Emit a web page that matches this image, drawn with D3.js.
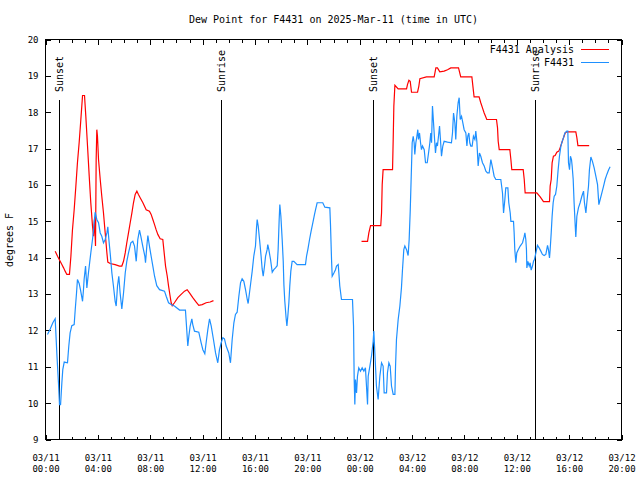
<!DOCTYPE html>
<html>
<head>
<meta charset="utf-8">
<script src="https://cdn.jsdelivr.net/npm/d3@7"></script>
<style>
  html, body { margin: 0; padding: 0; background: #ffffff; }
  svg { display: block; }
  text { font-family: "DejaVu Sans Mono", "Liberation Mono", monospace; fill: #000; }
</style>
</head>
<body>
<svg id="chart" width="640" height="480"></svg>
<script>
// ---- Data (hours after 2025-03-11 00:00 UTC, dew point in °F) ----
const startUTC = Date.UTC(2025, 2, 11, 0, 0);
const spanHours = 44;

const yTickValues = [9, 10, 11, 12, 13, 14, 15, 16, 17, 18, 19, 20];

const obsHours = [
  0.15,0.36,0.56,0.74,0.87,0.99,1.07,1.15,1.25,1.32,
  1.43,1.68,1.78,1.88,2.01,2.19,2.27,2.37,2.44,2.57,
  2.67,2.78,2.83,2.90,2.95,3.06,3.16,3.28,3.46,3.59,
  3.67,3.79,3.92,4.05,4.18,4.30,4.43,4.56,4.69,4.76,
  4.84,4.94,5.07,5.19,5.32,5.40,5.50,5.60,5.70,5.83,
  5.96,6.09,6.21,6.34,6.52,6.67,6.80,6.93,7.05,7.18,
  7.28,7.44,7.59,7.64,7.74,7.82,7.94,8.07,8.20,8.33,
  8.50,8.71,9.09,9.22,9.40,9.60,9.85,10.24,10.69,10.77,
  10.87,10.95,11.05,11.18,11.25,11.38,11.71,11.89,12.02,12.17,
  12.27,12.40,12.53,12.66,12.83,12.99,13.16,13.29,13.42,13.55,
  13.67,13.80,14.00,14.13,14.26,14.39,14.51,14.64,14.77,14.90,
  15.02,15.15,15.28,15.41,15.48,15.58,15.71,15.79,15.91,16.04,
  16.12,16.17,16.25,16.35,16.47,16.55,16.63,16.73,16.81,16.93,
  16.98,17.06,17.19,17.32,17.44,17.57,17.70,17.77,17.85,17.90,
  17.98,18.08,18.16,18.21,18.28,18.38,18.44,18.51,18.59,18.66,
  18.74,18.84,18.97,19.22,19.86,19.94,20.04,20.17,20.29,20.42,
  20.55,20.63,20.75,21.18,21.34,21.72,21.77,21.85,21.90,22.03,
  22.15,22.23,22.36,22.41,22.48,22.61,23.45,23.53,23.58,23.63,
  23.68,23.76,23.83,23.93,24.06,24.19,24.32,24.44,24.52,24.60,
  24.65,24.78,24.90,25.03,25.08,25.16,25.28,25.41,25.54,25.67,
  25.79,25.87,26.05,26.12,26.23,26.33,26.43,26.56,26.69,26.74,
  26.81,26.94,27.07,27.19,27.27,27.37,27.45,27.58,27.70,27.78,
  27.86,27.96,28.01,28.09,28.16,28.21,28.29,28.37,28.44,28.49,
  28.57,28.65,28.72,28.80,28.93,29.03,29.16,29.26,29.36,29.43,
  29.49,29.56,29.61,29.69,29.79,29.87,29.94,30.02,30.10,30.17,
  30.25,30.35,30.45,30.71,31.01,31.09,31.17,31.27,31.34,31.42,
  31.52,31.60,31.68,31.78,31.88,31.98,32.11,32.19,32.26,32.34,
  32.41,32.49,32.59,32.69,32.80,32.87,32.95,33.05,33.15,33.25,
  33.38,33.51,33.64,33.76,33.89,34.02,34.15,34.27,34.40,34.78,
  34.91,34.99,35.09,35.16,35.32,35.39,35.50,35.55,35.75,35.80,
  35.85,35.93,36.00,36.11,36.26,36.44,36.57,36.62,36.69,36.74,
  36.77,36.85,36.95,37.02,37.10,37.20,37.28,37.35,37.46,37.58,
  37.71,37.84,37.96,38.09,38.22,38.35,38.42,38.50,38.55,38.63,
  38.70,38.78,38.86,38.96,39.06,39.16,39.26,39.37,39.47,39.57,
  39.67,39.82,39.90,39.95,40.03,40.10,40.18,40.23,40.31,40.38,
  40.46,40.51,40.59,40.71,40.84,40.97,41.10,41.17,41.28,41.35,
  41.48,41.55,41.66,41.78,41.91,42.04,42.17,42.27,42.37,42.50,
  42.63,42.75,42.88,43.01,43.13
];
const obsDew = [
  11.89,12.04,12.21,12.32,11.34,10.56,9.96,9.96,10.56,10.92,
  11.13,11.11,11.57,11.93,12.13,12.16,12.57,13.03,13.40,13.29,
  13.12,12.90,12.80,13.12,13.40,13.77,13.17,13.58,14.13,14.50,
  14.77,15.25,15.05,14.96,14.68,14.59,14.41,14.50,14.68,14.85,
  14.50,14.13,13.58,13.22,12.80,12.67,13.22,13.49,13.03,12.59,
  13.03,13.58,13.90,14.13,14.41,14.45,14.32,13.90,14.50,14.76,
  14.59,14.30,14.04,13.86,14.32,14.61,14.32,14.04,13.77,13.49,
  13.23,13.12,13.08,12.94,12.76,12.71,12.67,12.56,12.56,12.12,
  11.57,11.84,12.12,12.32,12.16,11.98,11.95,11.66,11.47,11.36,
  11.66,12.02,12.32,12.12,11.75,11.38,11.11,11.47,11.66,11.80,
  11.77,11.57,11.38,11.11,11.75,12.21,12.44,12.50,12.94,13.31,
  13.42,13.35,13.12,12.85,12.74,13.03,13.40,13.63,14.04,14.32,
  14.82,15.05,14.87,14.50,14.04,13.69,13.49,13.77,14.04,14.22,
  14.36,14.22,13.95,13.60,13.67,13.72,13.78,14.22,15.05,15.46,
  15.14,14.50,13.90,13.26,12.80,12.34,12.12,12.39,12.76,13.22,
  13.63,13.90,13.90,13.81,13.81,14.04,14.22,14.50,14.73,14.96,
  15.19,15.32,15.51,15.51,15.39,15.37,14.91,13.95,13.49,13.58,
  13.67,13.77,13.81,13.58,13.22,12.85,12.85,12.12,10.65,9.96,
  10.65,10.28,10.74,10.97,10.88,10.97,10.88,10.97,10.47,9.96,
  10.74,11.02,11.29,11.70,11.98,11.38,10.47,10.10,10.74,11.11,
  11.02,10.28,10.28,10.83,11.11,11.02,10.47,10.24,10.24,11.02,
  11.75,12.30,12.67,13.17,13.67,14.22,14.32,14.22,14.06,14.50,
  15.28,16.52,17.16,17.34,17.16,16.84,17.16,17.34,17.52,17.25,
  17.43,17.16,16.97,17.07,16.97,16.61,16.61,16.88,17.16,17.43,
  17.16,18.17,17.89,17.43,16.88,17.16,17.07,17.34,17.62,17.25,
  16.79,17.07,17.20,17.18,17.16,17.43,17.98,17.71,17.25,17.89,
  18.26,18.40,17.80,17.89,17.71,17.52,17.43,17.07,17.34,17.43,
  17.16,17.07,17.07,17.34,17.25,17.48,17.20,16.52,16.88,16.79,
  16.61,16.52,16.38,16.33,16.33,16.70,16.47,16.24,16.15,16.15,
  15.78,15.23,15.60,15.92,15.92,15.51,15.23,15.00,15.00,14.68,
  14.22,13.86,14.13,14.22,14.32,14.41,14.59,14.68,14.50,14.22,
  13.72,13.90,13.77,13.86,13.66,13.77,13.90,13.95,14.13,14.34,
  14.27,14.18,14.09,14.06,14.09,14.34,14.22,13.99,14.22,14.68,
  15.14,15.51,15.69,15.74,15.97,16.42,16.79,17.07,17.20,17.30,
  17.43,17.48,17.48,16.61,16.42,16.79,16.70,16.52,16.15,15.51,
  14.91,14.57,15.14,15.37,15.51,15.69,15.83,15.51,15.23,15.51,
  15.97,16.42,16.77,16.65,16.47,16.24,16.01,15.46,15.60,15.78,
  15.97,16.15,16.29,16.41,16.50
];

// analysis series (null marks the gap with no analysis)
const anaHours = [
  0.74,0.92,1.12,1.25,1.38,1.50,1.63,1.83,1.94,2.06,
  2.19,2.32,2.44,2.57,2.70,2.83,2.98,3.08,3.21,3.34,
  3.46,3.59,3.67,3.74,3.82,3.87,3.92,3.97,4.05,4.18,
  4.30,4.43,4.56,4.69,4.76,4.94,5.32,5.65,5.83,5.96,
  6.09,6.21,6.34,6.47,6.60,6.72,6.85,6.98,7.10,7.23,
  7.44,7.69,7.94,8.07,8.20,8.33,8.45,8.58,8.76,8.96,
  9.04,9.17,9.30,9.40,9.52,9.60,9.68,9.85,10.11,10.36,
  10.62,10.82,11.00,11.25,11.51,11.71,11.97,12.27,12.58,12.83,
  null,
  24.14,24.60,24.70,24.83,25.61,25.67,25.72,25.79,26.51,26.56,
  26.61,26.69,26.94,27.58,27.65,27.76,27.86,27.96,28.42,28.52,
  28.60,29.10,29.69,29.82,29.94,30.12,30.45,30.71,30.96,31.55,
  31.72,32.57,32.69,32.74,33.12,33.25,33.38,33.51,33.71,34.45,
  34.53,34.58,34.66,35.47,35.55,35.62,36.49,36.57,36.64,37.53,
  37.79,38.04,38.50,38.55,38.63,38.70,38.80,38.93,39.06,39.21,
  39.31,39.44,39.57,39.70,39.82,40.51,40.59,40.67,41.53
];
const anaDew = [
  14.18,14.04,13.90,13.81,13.72,13.63,13.54,13.54,14.04,14.77,
  15.32,15.97,16.61,17.16,17.80,18.46,18.46,17.89,17.07,16.24,
  15.51,14.87,14.59,15.05,14.32,16.70,17.52,17.34,16.70,16.15,
  15.69,15.23,14.68,14.13,13.88,13.84,13.81,13.77,13.77,13.90,
  14.13,14.41,14.68,14.96,15.23,15.51,15.74,15.83,15.74,15.65,
  15.51,15.32,15.28,15.19,15.05,14.91,14.77,14.64,14.52,14.50,
  14.22,13.77,13.49,13.22,12.94,12.76,12.68,12.76,12.90,12.99,
  13.08,13.12,13.03,12.90,12.78,12.69,12.71,12.76,12.78,12.82,
  null,
  14.45,14.45,14.68,14.88,14.88,15.23,16.01,16.42,16.42,17.25,
  18.17,18.74,18.64,18.64,18.76,18.88,18.85,18.55,18.55,18.72,
  18.92,18.97,18.97,19.22,19.22,19.11,19.13,19.17,19.22,19.22,
  18.97,18.97,18.58,18.42,18.42,18.26,18.12,17.98,17.80,17.80,
  17.57,17.20,16.97,16.97,16.70,16.42,16.42,16.15,15.78,15.78,
  15.67,15.54,15.54,15.97,16.15,16.61,16.79,16.81,16.90,16.93,
  17.02,17.16,17.30,17.43,17.46,17.46,17.30,17.08,17.08
];

const sunHours  = [1.09, 13.47, 25.08, 37.41];
const sunLabels = ["Sunset", "Sunrise", "Sunset", "Sunrise"];

const seriesNames  = ["F4431 Analysis", "F4431"];
const seriesColors = ["#ff0000", "#1e90ff"];
const titleText = "Dew Point for F4431 on 2025-Mar-11 (time in UTC)";
const yLabelText = "degrees F";

// ---- Drawing ----
const toDate = h => new Date(startUTC + h * 3600e3);
const svg = d3.select("#chart");
const pL = 45.5, pR = 621.5, pT = 39.5, pB = 439.5;

const x = d3.scaleUtc().domain([toDate(0), toDate(spanHours)]).range([pL, pR]);
const y = d3.scaleLinear().domain([9, 20]).range([pB, pT]);

const fmtDay = d3.utcFormat("%m/%d");
const fmtTime = d3.utcFormat("%H:%M");

// minor x ticks (every hour), bottom and top
svg.append("g").attr("transform", `translate(0,${pB})`)
  .call(d3.axisBottom(x).ticks(d3.utcHour.every(1)).tickSizeInner(-3).tickSizeOuter(0).tickFormat(""))
  .call(g => g.select(".domain").remove());
svg.append("g").attr("transform", `translate(0,${pT})`)
  .call(d3.axisTop(x).ticks(d3.utcHour.every(1)).tickSizeInner(-3).tickSizeOuter(0).tickFormat(""))
  .call(g => g.select(".domain").remove());

// major x ticks (every 4 hours)
const gx = svg.append("g").attr("transform", `translate(0,${pB})`)
  .call(d3.axisBottom(x).ticks(d3.utcHour.every(4)).tickSizeInner(-5).tickSizeOuter(0))
  .call(g => g.select(".domain").remove());
gx.selectAll(".tick text").each(function(d) {
  const t = d3.select(this);
  t.text(null).attr("y", 0).attr("dy", null)
   .style("font-family", "'DejaVu Sans Mono', monospace").style("font-size", "9px");
  t.append("tspan").attr("x", 0).attr("y", 21).text(fmtDay(d));
  t.append("tspan").attr("x", 0).attr("y", 32.5).text(fmtTime(d));
});
svg.append("g").attr("transform", `translate(0,${pT})`)
  .call(d3.axisTop(x).ticks(d3.utcHour.every(4)).tickSizeInner(-5).tickSizeOuter(0).tickFormat(""))
  .call(g => g.select(".domain").remove());

// y ticks
svg.append("g").attr("transform", `translate(${pL},0)`)
  .call(d3.axisLeft(y).tickValues(yTickValues).tickSizeInner(-5).tickSizeOuter(0).tickPadding(7).tickFormat(d3.format("d")))
  .call(g => g.select(".domain").remove())
  .call(g => g.selectAll("text").style("font-family", "'DejaVu Sans Mono', monospace").style("font-size", "9px"));
svg.append("g").attr("transform", `translate(${pR},0)`)
  .call(d3.axisRight(y).tickValues(yTickValues).tickSizeInner(-5).tickSizeOuter(0).tickFormat(""))
  .call(g => g.select(".domain").remove());

svg.selectAll(".tick line").attr("stroke", "#000").attr("shape-rendering", "crispEdges");

// sunrise / sunset markers
const ev = svg.append("g");
sunHours.forEach((h, i) => {
  const xx = x(toDate(h));
  ev.append("line").attr("x1", xx).attr("x2", xx).attr("y1", 99.5).attr("y2", pB)
    .attr("stroke", "#000").attr("stroke-width", 1).attr("shape-rendering", "crispEdges");
  ev.append("text").attr("transform", `translate(${xx + 3.6},92) rotate(-90)`)
    .attr("text-anchor", "start").style("font-size", "10px").text(sunLabels[i]);
});

// data lines
const anaPts = anaHours.map((h, i) => [h, anaDew[i]]);
const obsPts = obsHours.map((h, i) => [h, obsDew[i]]);
const line = d3.line()
  .defined(d => d[0] !== null && d[1] !== null)
  .x(d => x(toDate(d[0])))
  .y(d => y(d[1]));

svg.append("path").datum(anaPts).attr("d", line)
  .attr("fill", "none").attr("stroke", seriesColors[0]).attr("stroke-width", 1.2);
svg.append("path").datum(obsPts).attr("d", line)
  .attr("fill", "none").attr("stroke", seriesColors[1]).attr("stroke-width", 1.2);

// frame
svg.append("rect").attr("x", pL).attr("y", pT).attr("width", pR - pL).attr("height", pB - pT)
  .attr("fill", "none").attr("stroke", "#000").attr("stroke-width", 1).attr("shape-rendering", "crispEdges");

// legend
const lg = svg.append("g");
seriesNames.forEach((name, i) => {
  const yy = 49.5 + i * 13;
  lg.append("text").attr("x", 574).attr("y", yy + 3.6).attr("text-anchor", "end")
    .style("font-size", "10px").text(name);
  lg.append("line").attr("x1", 581).attr("x2", 609).attr("y1", yy).attr("y2", yy)
    .attr("stroke", seriesColors[i]).attr("stroke-width", 1).attr("shape-rendering", "crispEdges");
});

// title and axis label
svg.append("text").attr("x", (pL + pR) / 2).attr("y", 23).attr("text-anchor", "middle")
  .style("font-size", "10px").text(titleText);
svg.append("text").attr("transform", "translate(13,240) rotate(-90)").attr("text-anchor", "middle")
  .style("font-size", "10px").text(yLabelText);
</script>
</body>
</html>
